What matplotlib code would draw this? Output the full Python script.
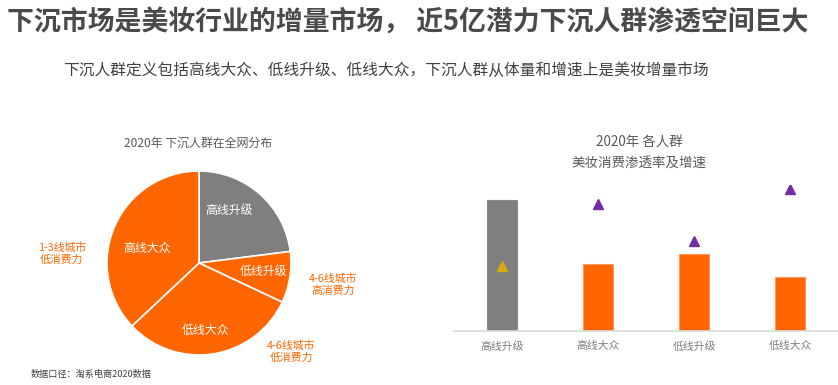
import matplotlib
matplotlib.use("Agg")
import matplotlib.pyplot as plt

plt.rcParams['font.family'] = ['Noto Sans CJK SC', 'DejaVu Sans']

# pie data (share of sinking population, %)
pie_labels = ["高线升级", "低线升级", "低线大众", "高线大众"]
pie_share = [23, 9, 31, 37]
pie_colors = ["#7F7F7F", "#FF6600", "#FF6600", "#FF6600"]

# bar data
groups = ["高线升级", "高线大众", "低线升级", "低线大众"]
penetration = [0.63, 0.32, 0.37, 0.26]
growth = [0.31, 0.61, 0.43, 0.68]
bar_colors = ["#7F7F7F", "#FF6600", "#FF6600", "#FF6600"]
tri_colors = ["#D4AC0D", "#7030A0", "#7030A0", "#7030A0"]

W, H = 838, 385
fig = plt.figure(figsize=(W / 100, H / 100), dpi=100)

def fx(px):
    return px / W

def fy(py):
    return 1 - py / H

fig.text(fx(7), fy(22), "下沉市场是美妆行业的增量市场， 近5亿潜力下沉人群渗透空间巨大",
         fontsize=19.4, fontweight='bold', color='#4A4A4A', va='center', ha='left')
fig.text(fx(63), fy(70), "下沉人群定义包括高线大众、低线升级、低线大众，下沉人群从体量和增速上是美妆增量市场",
         fontsize=11.3, color='#404040', va='center', ha='left')

# ---- pie ----
cx, cy, r = 199, 263, 92
ax1 = fig.add_axes([fx(cx - r), fy(cy + r), 2 * r / W, 2 * r / H])
ax1.pie(pie_share, colors=pie_colors, startangle=90, counterclock=False,
        wedgeprops=dict(edgecolor='white', linewidth=1.2))
ax1.set_xlim(-1, 1)
ax1.set_ylim(-1, 1)
ax1.set_aspect('auto')
ax1.axis('off')

inner_pos = {"高线升级": (0.33, 0.57), "低线升级": (0.70, -0.09),
             "低线大众": (0.07, -0.73), "高线大众": (-0.57, 0.16)}
for lab in pie_labels:
    x, y = inner_pos[lab]
    ax1.text(x, y, lab, color='white', fontsize=8.6, ha='center', va='center')

outer = [("1-3线城市\n低消费力", (-1.49, 0.10)),
         ("4-6线城市\n高消费力", (1.46, -0.23)),
         ("4-6线城市\n低消费力", (1.00, -0.96))]
for txt, (x, y) in outer:
    ax1.text(x, y, txt, color='#FF6600', fontsize=7.8, fontweight='medium',
             ha='center', va='center', linespacing=1.2)

fig.text(fx(198), fy(143), "2020年 下沉人群在全网分布", fontsize=8.6,
         color='#595959', ha='center', va='center')
fig.text(fx(31), fy(374), "数据口径：淘系电商2020数据", fontsize=6.6,
         color='#404040', ha='left', va='center')

# ---- bars ----
ax2 = fig.add_axes([fx(454), fy(331), (W - 454) / W, 146 / H])
xs = range(len(groups))
ax2.bar(xs, penetration, width=0.31, color=bar_colors,
        edgecolor=['#8C8C8C', '#FF9A5C', '#FF9A5C', '#FF9A5C'], linewidth=0.8)
for i in xs:
    ax2.plot(i, growth[i], marker='^', color=tri_colors[i], markersize=7, linestyle='none')
ax2.set_xlim(-0.5, 3.5)
ax2.set_ylim(0, 0.7)
ax2.set_xticks(list(xs))
ax2.set_xticklabels(groups, fontsize=7.8, color='#7F7F7F')
ax2.tick_params(axis='x', length=0, pad=7)
ax2.set_yticks([])
for s in ['top', 'right', 'left']:
    ax2.spines[s].set_visible(False)
ax2.spines['bottom'].set_color('#D9D9D9')
ax2.spines['bottom'].set_linewidth(1.2)
ax2.patch.set_alpha(0)

fig.text(fx(639), fy(142), "2020年 各人群", fontsize=9.7, color='#595959', ha='center', va='center')
fig.text(fx(639), fy(164), "美妆消费渗透率及增速", fontsize=9.7, color='#595959', ha='center', va='center')

fig.savefig("out.png", dpi=100)
